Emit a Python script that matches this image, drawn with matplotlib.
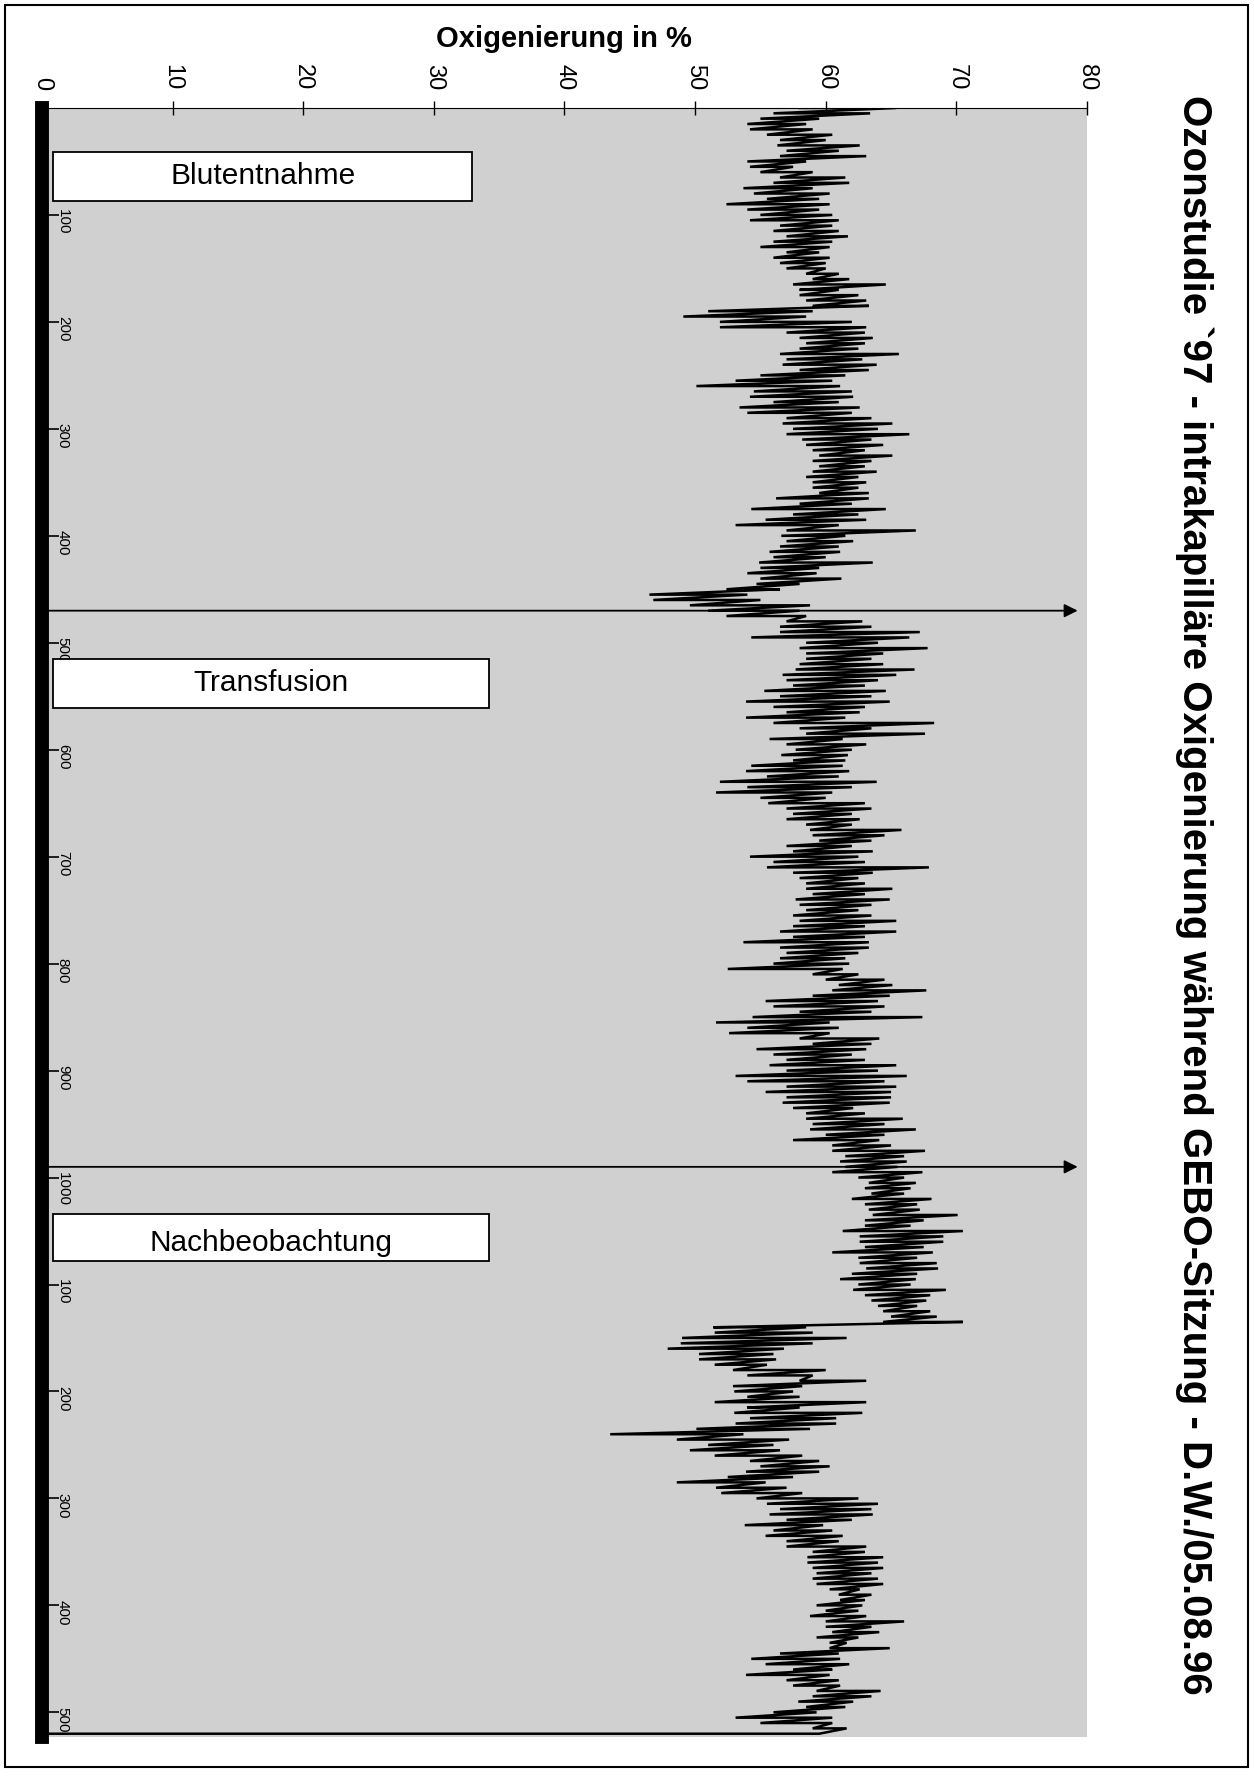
import numpy as np
import matplotlib
matplotlib.use('Agg')
import matplotlib.pyplot as plt
from matplotlib.patches import Rectangle

plt.rcParams['font.family'] = ['Liberation Sans', 'DejaVu Sans']

# Zeitachse (Messpunkte, alle 5 Einheiten), Oxigenierung als unterer/oberer Ausschlag
zeit = list(range(0, 1525, 5))

sao2_lo = [
    58.0, 56.0, 55.0, 54.0, 54.2, 55.5, 56.5, 56.3, 57.0, 56.5, 54.0, 54.2, 55.0, 56.5, 56.0,
    53.7, 54.5, 55.5, 52.4, 54.0, 55.0, 54.2, 56.5, 56.0, 57.0, 56.0, 55.0, 57.0, 56.0, 56.5,
    57.0, 58.5, 59.0, 57.5, 58.0, 58.0, 58.5, 59.0, 51.0, 49.1, 51.9, 51.9, 57.0, 58.0, 58.5,
    58.0, 56.5, 57.0, 56.7, 58.0, 55.0, 53.1, 50.1, 54.5, 54.2, 56.0, 53.4, 54.0, 57.0, 56.7, 57.5,
    57.0, 58.2, 58.5, 59.0, 59.5, 59.0, 59.5, 59.0, 58.5, 59.0, 59.0, 59.5, 56.2, 58.0, 54.3,
    57.5, 55.4, 53.1, 57.0, 56.6, 57.0, 56.5, 55.7, 56.0, 54.9, 55.0, 54.0, 55.0, 54.7, 52.4, 46.5,
    46.8, 49.6, 51.0, 52.4, 57.0, 56.5, 56.5, 54.3, 58.5, 58.0, 58.5, 58.5, 58.0, 57.7, 56.7,
    57.0, 57.5, 55.3, 56.5, 53.9, 56.0, 57.0, 53.9, 56.0, 58.0, 58.5, 55.7, 57.0, 57.7, 56.6, 57.5,
    54.3, 53.9, 55.5, 51.9, 54.0, 51.6, 55.0, 55.6, 57.0, 57.5, 57.0, 58.5, 58.8, 59.0, 59.5,
    57.0, 57.5, 54.2, 56.0, 55.5, 57.5, 58.0, 58.5, 58.5, 59.0, 57.7, 58.0, 58.5, 57.5, 58.0, 57.5,
    56.5, 57.5, 53.7, 56.5, 57.0, 56.5, 56.0, 52.5, 59.0, 60.0, 61.0, 60.5, 59.0, 55.4, 56.0,
    58.0, 54.4, 51.6, 54.0, 52.6, 58.0, 59.0, 54.7, 56.0, 57.0, 55.7, 57.0, 53.1, 54.0, 57.0, 55.4,
    57.0, 56.7, 57.5, 58.5, 58.5, 59.0, 58.8, 60.0, 57.5, 60.5, 60.5, 61.5, 61.1, 61.5, 60.5,
    62.5, 63.3, 63.0, 63.5, 62.0, 63.0, 63.3, 63.6, 63.0, 63.0, 61.3, 62.6, 62.6, 63.0, 60.5, 62.5,
    62.6, 63.1, 62.0, 61.1, 62.5, 62.1, 63.0, 63.5, 64.0, 64.4, 65.0, 64.4, 51.4, 51.5, 49.0,
    48.9, 47.9, 50.3, 50.3, 51.5, 52.9, 54.0, 58.0, 52.9, 53.0, 54.0, 51.5, 54.0, 53.0, 54.2,
    53.1, 50.1, 43.5, 48.6, 51.0, 49.6, 51.5, 54.2, 55.0, 53.9, 52.5, 48.6, 51.6, 52.0, 54.7,
    55.5, 56.5, 55.7, 57.0, 53.8, 56.0, 55.4, 57.0, 57.0, 59.0, 58.6, 58.6, 59.0, 59.3, 59.0, 59.3,
    60.3, 61.0, 61.1, 59.3, 60.0, 58.8, 60.0, 60.0, 60.5, 59.3, 60.3, 60.3, 56.5, 54.3,
    55.4, 57.5, 53.9, 57.0, 57.5, 59.3, 59.0, 57.9, 58.5, 56.0, 53.1, 55.0, 59.0,
    59.5,
]

sao2_hi = [
    65.4, 63.4, 59.5, 58.5, 59.0, 60.5, 60.0, 62.6, 61.0, 63.1, 58.5, 57.5, 59.0, 61.5, 61.8,
    59.0, 60.3, 59.5, 60.3, 59.5, 60.5, 61.0, 60.5, 61.0, 61.7, 60.5, 60.3, 59.5, 60.3, 60.0,
    60.0, 61.0, 61.8, 64.6, 61.0, 62.5, 63.1, 63.3, 59.0, 58.5, 62.0, 63.1, 63.0, 63.6, 63.0,
    62.5, 65.6, 62.8, 63.9, 63.3, 61.5, 60.5, 61.1, 62.0, 62.1, 61.0, 62.6, 62.0, 63.5, 65.1, 64.0,
    66.4, 63.5, 64.4, 63.0, 65.1, 63.5, 63.0, 63.9, 62.5, 63.1, 62.5, 63.3, 63.3, 62.0, 64.6,
    62.5, 63.1, 61.0, 66.9, 61.5, 62.1, 61.0, 61.1, 60.0, 63.6, 59.5, 59.3, 61.2, 58.0, 56.5, 54.0,
    55.0, 58.8, 58.0, 58.5, 62.8, 63.5, 67.2, 66.4, 64.0, 67.8, 64.4, 63.5, 64.4, 66.8, 65.4,
    64.0, 63.0, 64.6, 63.5, 64.9, 63.0, 62.6, 61.5, 68.3, 63.5, 67.6, 61.3, 63.1, 62.0, 61.7, 61.5,
    61.3, 61.8, 61.0, 63.9, 62.0, 60.5, 60.0, 63.0, 63.5, 62.0, 62.6, 62.0, 65.8, 64.5, 63.5,
    62.0, 63.6, 62.5, 63.0, 67.9, 63.6, 62.5, 63.0, 65.1, 63.0, 64.9, 63.5, 62.5, 63.5, 65.4, 63.0,
    65.4, 63.0, 63.3, 63.3, 62.5, 61.5, 61.8, 61.3, 62.5, 64.5, 65.1, 67.7, 64.9, 64.0, 64.5,
    63.5, 67.4, 60.3, 61.0, 60.3, 64.1, 63.5, 63.1, 62.0, 63.0, 65.4, 64.0, 66.2, 64.5, 65.4, 65.0,
    65.0, 64.9, 62.1, 63.0, 65.9, 64.5, 66.9, 64.5, 64.1, 65.0, 67.6, 66.0, 66.2, 65.5, 67.4,
    66.0, 66.9, 66.5, 66.0, 68.1, 67.0, 67.2, 70.1, 67.5, 66.5, 70.5, 69.0, 69.0, 67.5, 68.2, 67.0,
    68.5, 68.6, 67.0, 66.9, 66.5, 69.2, 68.0, 67.7, 67.0, 68.0, 68.5, 70.5, 58.5, 59.0, 61.6,
    59.0, 56.8, 56.0, 56.2, 55.5, 60.0, 59.0, 63.1, 58.2, 57.5, 58.0, 63.1, 58.0, 62.8, 60.8,
    60.8, 58.8, 53.7, 57.2, 56.0, 56.5, 58.2, 59.5, 60.3, 59.5, 57.5, 55.4, 57.0, 58.2, 62.5,
    64.0, 63.5, 63.6, 62.0, 59.8, 60.5, 61.3, 61.0, 63.1, 63.0, 64.4, 64.0, 64.4, 63.5, 64.0, 64.4,
    62.6, 63.5, 63.0, 62.8, 62.5, 63.1, 66.0, 63.5, 64.1, 62.5, 61.6, 64.9, 61.0, 61.1,
    61.8, 60.5, 60.3, 61.0, 61.1, 64.2, 63.5, 62.1, 61.5, 59.3, 60.5, 60.5, 61.6,
    0.0,
]

x_ticks = [0, 10, 20, 30, 40, 50, 60, 70, 80]
t_ticks = [100, 200, 300, 400, 500, 600, 700, 800, 900, 1000, 1100, 1200, 1300, 1400, 1500]
t_labels = ['100', '200', '300', '400', '500', '600', '700', '800', '900', '1000',
            '100', '200', '300', '400', '500']

# Phasen: (Text, Beginn, Ende) auf der Zeitachse, Pfeile bei den Phasenwechseln
phasen = [('Blutentnahme', 41, 87), ('Transfusion', 515, 561), ('Nachbeobachtung', 1034, 1078)]
wechsel = [470, 990]

titel = 'Ozonstudie `97 - intrakapilläre Oxigenierung während GEBO-Sitzung - D.W./05.08.96'

fig = plt.figure(figsize=(12.54, 17.76), dpi=100)
ax = fig.add_axes([0.0335, 0.0220, 0.8333, 0.9172])
ax.set_facecolor('#d0d0d0')

xs, ys = [], []
for t, a, b in zip(zeit, sao2_lo, sao2_hi):
    xs += [a, b]
    ys += [t, t]
ax.plot(xs, ys, color='black', lw=1.8, solid_joinstyle='miter')

ax.set_xlim(0, 80)
ax.set_ylim(1523, 0)

ax.xaxis.tick_top()
ax.set_xticks(x_ticks)
ax.set_xticklabels([str(v) for v in x_ticks])
ax.tick_params(axis='x', direction='inout', length=10, width=1, pad=8,
               labelrotation=-90, labelsize=17)
ax.set_yticks(t_ticks)
ax.set_yticklabels(t_labels)
ax.tick_params(axis='y', direction='in', length=12, width=1.2, pad=-20,
               labelrotation=-90, labelsize=11)
for lab in ax.get_yticklabels():
    lab.set_ha('right')

ax.spines['right'].set_visible(False)
ax.spines['bottom'].set_visible(False)
ax.spines['top'].set_linewidth(0.8)
ax.spines['left'].set_linewidth(10)

for name, t0, t1 in phasen:
    breite = 32.1 if name == 'Blutentnahme' else 33.4
    box = Rectangle((0.84, t0), breite, t1 - t0, facecolor='white', edgecolor='black', lw=1.3, zorder=4)
    ax.add_patch(box)
    yt = (t0 + t1) / 2 + (5 if name == 'Nachbeobachtung' else 0)
    txt = ax.text(0.84 + breite / 2, yt, name, ha='center', va='center', fontsize=21.5, zorder=5)
    txt.set_clip_path(box)

for t in wechsel:
    ax.annotate('', xy=(79.5, t), xytext=(0, t),
                arrowprops=dict(arrowstyle='-|>', color='black', lw=1.3, mutation_scale=20))

fig.text(0.450, 0.978, 'Oxigenierung in %', ha='center', va='center', fontsize=21, fontweight='bold')
fig.text(0.952, 0.496, titel, ha='center', va='center', rotation=-90, fontsize=29, fontweight='bold')

fig.add_artist(Rectangle((0.004, 0.005), 0.991, 0.992, transform=fig.transFigure,
                         fill=False, edgecolor='black', lw=1.5))

fig.savefig('out.png', dpi=100, facecolor='white')
